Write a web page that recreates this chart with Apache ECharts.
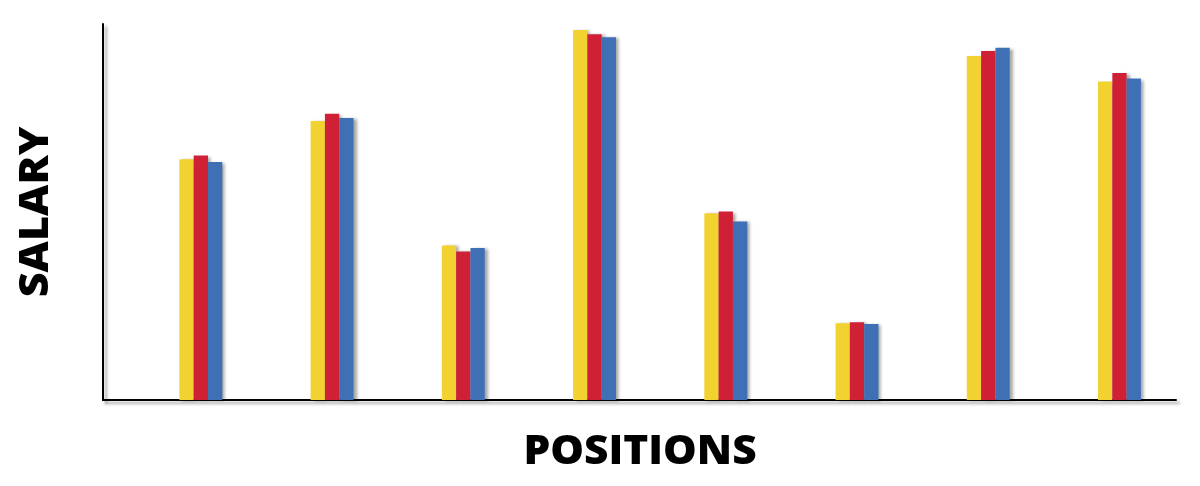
<!DOCTYPE html>
<html>
<head>
<meta charset="utf-8">
<script src="https://cdn.jsdelivr.net/npm/echarts@6/dist/echarts.min.js"></script>
<style>
  html, body { margin: 0; padding: 0; background: #fff; }
  #main { width: 1200px; height: 486px; }
</style>
</head>
<body>
<div id="main"></div>
<script>
// categories have no visible labels in the picture
var categories = ['P1', 'P2', 'P3', 'P4', 'P5', 'P6', 'P7', 'P8']
var seriesNames = ['Yellow', 'Red', 'Blue']
var yellowValues = [64.0, 74.2, 41.1, 98.4, 49.7, 20.4, 91.5, 84.7]
var redValues = [65.0, 76.1, 39.5, 97.3, 50.1, 20.7, 92.8, 87.0]
var blueValues = [63.3, 75.0, 40.4, 96.5, 47.5, 20.2, 93.7, 85.5]
var colors = ['#f2d231', '#d02036', '#3f70b6']

var chart = echarts.init(document.getElementById('main'))

var textShadow = {
  shadowColor: 'rgba(0,0,0,0.45)',
  shadowBlur: 4,
  shadowOffsetX: 3,
  shadowOffsetY: 3
}

function barSeries(name, values, color) {
  return {
    name: name,
    type: 'bar',
    xAxisIndex: 0,
    yAxisIndex: 0,
    data: values,
    barWidth: 14.3,
    barGap: '0%',
    silent: true,
    itemStyle: {
      color: color,
      shadowColor: 'rgba(0,0,0,0.35)',
      shadowBlur: 3,
      shadowOffsetX: 3,
      shadowOffsetY: 1
    }
  }
}

var axisLineStyle = {
  color: '#000',
  width: 2,
  shadowColor: 'rgba(0,0,0,0.35)',
  shadowBlur: 3,
  shadowOffsetX: 3,
  shadowOffsetY: 3
}

var option = {
  animation: false,
  grid: [
    { left: 135.2, right: 14.9, top: 24, bottom: 86 },
    { left: 103, right: 24, top: 24, bottom: 86 }
  ],
  xAxis: [
    {
      type: 'category', gridIndex: 0, data: categories,
      axisLine: { show: false }, axisTick: { show: false },
      axisLabel: { show: false }, splitLine: { show: false }
    },
    {
      type: 'value', gridIndex: 1, min: 0, max: 1,
      axisLine: { show: true, lineStyle: axisLineStyle }, axisTick: { show: false },
      axisLabel: { show: false }, splitLine: { show: false }
    }
  ],
  yAxis: [
    {
      type: 'value', gridIndex: 0, min: 0, max: 100,
      axisLine: { show: false }, axisTick: { show: false },
      axisLabel: { show: false }, splitLine: { show: false }
    },
    {
      type: 'value', gridIndex: 1, min: 0, max: 1,
      axisLine: { show: true, lineStyle: axisLineStyle }, axisTick: { show: false },
      axisLabel: { show: false }, splitLine: { show: false }
    }
  ],
  graphic: [
    {
      type: 'text', x: 640, y: 453, scaleX: 1.06, silent: true,
      style: Object.assign({
        text: 'POSITIONS', fill: '#000',
        font: '800 40px "Open Sans"',
        align: 'center', verticalAlign: 'middle'
      }, textShadow)
    },
    {
      type: 'text', x: 37, y: 212, rotation: Math.PI / 2, scaleX: 1.08, silent: true,
      style: Object.assign({
        text: 'SALARY', fill: '#000',
        font: '800 40px "Open Sans"',
        align: 'center', verticalAlign: 'middle'
      }, textShadow)
    }
  ],
  series: [
    barSeries(seriesNames[0], yellowValues, colors[0]),
    barSeries(seriesNames[1], redValues, colors[1]),
    barSeries(seriesNames[2], blueValues, colors[2])
  ]
}

chart.setOption(option)
</script>
</body>
</html>
